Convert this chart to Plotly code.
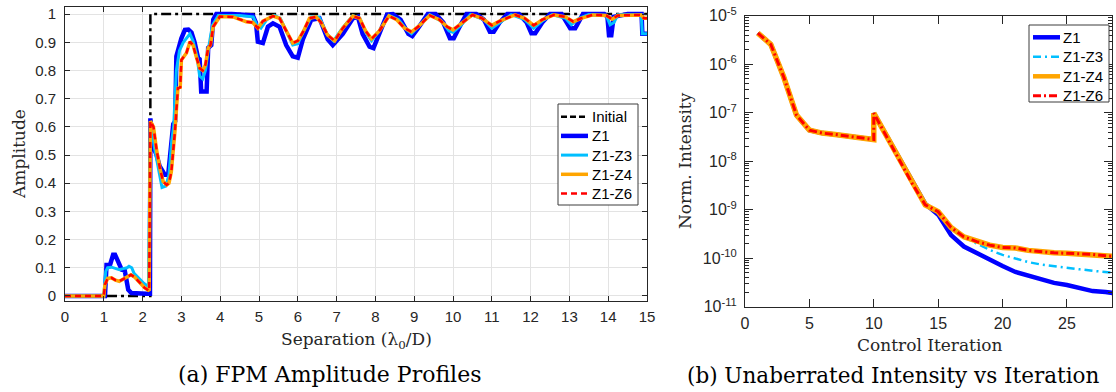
import plotly.graph_objects as go

# ---------------- (a) FPM amplitude profiles ----------------
sep_init = [0, 2.2, 2.2, 15]
amp_init = [0, 0, 1, 1]

sep_z1 = [0, 1.03, 1.07, 1.16, 1.24, 1.29, 1.37, 1.46, 1.54, 1.63, 1.71, 1.84, 1.97, 2.1, 2.19,
          2.2, 2.27, 2.36, 2.44, 2.57, 2.66, 2.70, 2.79, 2.84, 2.87, 3.0, 3.09, 3.18, 3.26, 3.34,
          3.43, 3.47, 3.51, 3.65, 3.69, 3.77, 3.82, 3.9, 4.3, 4.84, 4.92, 4.97, 5.10, 5.23, 5.36,
          5.53, 5.70, 5.87, 6.0, 6.13, 6.35, 6.56, 6.77, 6.9, 7.16, 7.42, 7.55, 7.67, 7.85, 7.95,
          8.1, 8.3, 8.45, 8.65, 8.85, 8.95, 9.1, 9.35, 9.55, 9.75, 9.92, 10.02, 10.15, 10.35, 10.6,
          10.8, 10.95, 11.05, 11.2, 11.4, 11.7, 11.9, 12.02, 12.12, 12.3, 12.5, 12.8, 12.93, 13.02,
          13.15, 13.35, 13.9, 13.98, 14.02, 14.08, 14.14, 14.5, 14.86, 14.88, 15]
amp_z1 = [0, 0, 0.11, 0.11, 0.146, 0.146, 0.122, 0.093, 0.09, 0.022, 0.01, 0.008, 0.01, 0.008, 0.008,
          0.63, 0.53, 0.50, 0.46, 0.43, 0.43, 0.49, 0.61, 0.62, 0.85, 0.914, 0.944, 0.945, 0.935, 0.90,
          0.844, 0.84, 0.725, 0.725, 0.88, 0.89, 0.98, 1.0, 1.0, 0.995, 0.97, 0.902, 0.897, 0.955, 0.967,
          0.955, 0.89, 0.85, 0.845, 0.91, 0.98, 0.985, 0.91, 0.89, 0.93, 0.985, 0.99, 0.93, 0.884, 0.879,
          0.93, 0.998, 1.0, 0.98, 0.93, 0.922, 0.95, 1.0, 1.0, 0.97, 0.914, 0.914, 0.95, 1.0, 1.0,
          0.98, 0.937, 0.937, 0.97, 1.0, 1.0, 0.97, 0.932, 0.932, 0.97, 1.0, 1.0, 0.97, 0.95,
          0.95, 1.0, 1.0, 0.99, 0.925, 0.925, 0.99, 1.0, 1.0, 0.93, 0.93]

sep_z13 = [0, 1.0, 1.05, 1.1, 1.2, 1.3, 1.4, 1.5, 1.6, 1.65, 1.72, 1.78, 1.9, 2.03, 2.15,
           2.2, 2.3, 2.4, 2.5, 2.6, 2.68, 2.75, 2.8, 2.87, 2.95, 3.05, 3.15, 3.22, 3.3, 3.4,
           3.47, 3.55, 3.62, 3.7, 3.8, 3.95, 4.5, 4.85, 4.95, 5.05, 5.2, 5.4, 5.55, 5.7, 5.87,
           6.0, 6.15, 6.35, 6.55, 6.75, 6.92, 7.15, 7.42, 7.6, 7.75, 7.9, 8.1, 8.35, 8.6, 8.8,
           8.93, 9.1, 9.4, 9.7, 9.9, 10.0, 10.2, 10.45, 10.8, 11.0, 11.2, 11.5, 11.85, 12.08, 12.3,
           12.55, 12.9, 13.05, 13.25, 13.5, 13.95, 14.05, 14.15, 14.25, 14.85, 14.88, 15]
amp_z13 = [0, 0, 0.087, 0.1, 0.102, 0.097, 0.093, 0.097, 0.1, 0.105, 0.1, 0.08, 0.062, 0.045, 0.033,
           0.62, 0.53, 0.45, 0.385, 0.39, 0.43, 0.55, 0.6, 0.8, 0.87, 0.9, 0.92, 0.93, 0.905, 0.85,
           0.78, 0.77, 0.80, 0.88, 0.96, 0.995, 0.995, 0.99, 0.96, 0.95, 0.98, 0.995, 0.985, 0.94, 0.89,
           0.895, 0.94, 0.99, 0.99, 0.93, 0.905, 0.95, 0.995, 0.985, 0.935, 0.905, 0.94, 0.995, 0.98, 0.945,
           0.93, 0.955, 0.998, 0.975, 0.94, 0.935, 0.96, 0.998, 0.98, 0.95, 0.97, 0.998, 0.98, 0.95, 0.975,
           0.998, 0.985, 0.962, 0.985, 0.998, 0.995, 0.962, 0.97, 0.998, 0.998, 0.93, 0.93]

sep_z16 = [0, 1.0, 1.03, 1.1, 1.2, 1.3, 1.4, 1.5, 1.6, 1.7, 1.8, 1.95, 2.05, 2.17,
           2.2, 2.28, 2.36, 2.45, 2.53, 2.62, 2.68, 2.74, 2.83, 2.91, 2.97, 3.0, 3.13, 3.22, 3.3,
           3.38, 3.47, 3.55, 3.62, 3.69, 3.75, 3.82, 3.99, 4.33, 4.67, 4.84, 4.97, 5.1, 5.36, 5.53,
           5.70, 5.87, 6.0, 6.15, 6.3, 6.47, 6.6, 6.77, 6.95, 7.16, 7.42, 7.59, 7.75, 7.9, 8.1,
           8.35, 8.55, 8.75, 8.93, 9.1, 9.4, 9.65, 9.85, 10.0, 10.2, 10.5, 10.75, 11.0, 11.2, 11.6,
           11.85, 12.08, 12.3, 12.6, 12.9, 13.1, 13.3, 13.6, 13.95, 14.1, 14.25, 14.85, 14.92, 15]
amp_z16 = [0, 0, 0.04, 0.062, 0.064, 0.056, 0.052, 0.06, 0.067, 0.075, 0.066, 0.045, 0.029, 0.018,
           0.62, 0.6, 0.518, 0.45, 0.406, 0.394, 0.40, 0.44, 0.578, 0.737, 0.74, 0.837, 0.862, 0.902, 0.89,
           0.85, 0.808, 0.80, 0.82, 0.88, 0.89, 0.955, 0.991, 0.99, 0.973, 0.97, 0.95, 0.975, 0.993, 0.985,
           0.94, 0.897, 0.905, 0.94, 0.985, 0.99, 0.97, 0.925, 0.905, 0.95, 0.993, 0.985, 0.94, 0.912, 0.94,
           0.993, 0.98, 0.95, 0.937, 0.955, 0.995, 0.98, 0.955, 0.944, 0.965, 0.997, 0.985, 0.96, 0.975, 0.997,
           0.985, 0.96, 0.98, 0.997, 0.99, 0.973, 0.985, 0.997, 0.995, 0.982, 0.995, 0.997, 0.985, 0.985]

sep_z14 = list(sep_z16)
amp_z14 = [0, 0, 0.04, 0.062, 0.064, 0.056, 0.052, 0.06, 0.067, 0.075, 0.066, 0.045, 0.029, 0.018,
           0.62, 0.6, 0.518, 0.45, 0.406, 0.394, 0.40, 0.44, 0.578, 0.737, 0.74, 0.837, 0.862, 0.902, 0.89,
           0.85, 0.808, 0.80, 0.82, 0.88, 0.89, 0.955, 0.991, 0.99, 0.973, 0.97, 0.95, 0.975, 0.993, 0.985,
           0.94, 0.897, 0.905, 0.94, 0.985, 0.99, 0.97, 0.925, 0.905, 0.95, 0.993, 0.985, 0.94, 0.912, 0.94,
           0.993, 0.98, 0.95, 0.937, 0.955, 0.995, 0.98, 0.955, 0.944, 0.965, 0.997, 0.985, 0.96, 0.975, 0.997,
           0.985, 0.96, 0.98, 0.997, 0.99, 0.973, 0.985, 0.997, 0.995, 0.982, 0.995, 0.997, 0.985, 0.985]

# ---------------- (b) intensity vs iteration ----------------
iters = [1, 2, 3, 4, 5, 6, 7, 8, 9, 10, 10, 11, 12, 13, 14, 15, 16, 17, 18, 19, 20,
         21, 22, 23, 24, 25, 26, 27, 28, 29]
int_z1 = [4.37e-6, 2.57e-6, 5.5e-7, 8.9e-8, 4.37e-8, 3.8e-8, 3.55e-8, 3.3e-8, 3.0e-8, 2.8e-8, 9.8e-8,
          3.3e-8, 1.1e-8, 3.8e-9, 1.32e-9, 7.9e-10, 3.0e-10, 1.74e-10, 1.26e-10, 9.1e-11, 6.9e-11,
          5.2e-11, 4.4e-11, 3.6e-11, 3.1e-11, 2.8e-11, 2.4e-11, 2.1e-11, 2.0e-11, 1.86e-11]
int_z13 = [4.37e-6, 2.57e-6, 5.5e-7, 8.9e-8, 4.37e-8, 3.8e-8, 3.55e-8, 3.3e-8, 3.0e-8, 2.8e-8, 9.8e-8,
           3.2e-8, 1.05e-8, 3.4e-9, 1.26e-9, 9.1e-10, 4.3e-10, 2.75e-10, 2.0e-10, 1.48e-10, 1.17e-10,
           9.8e-11, 8.3e-11, 7.4e-11, 6.8e-11, 6.3e-11, 5.9e-11, 5.5e-11, 5.2e-11, 4.9e-11]
int_z14 = [4.37e-6, 2.57e-6, 5.5e-7, 8.9e-8, 4.37e-8, 3.8e-8, 3.55e-8, 3.3e-8, 3.0e-8, 2.8e-8, 9.8e-8,
           3.2e-8, 1.05e-8, 3.4e-9, 1.26e-9, 9.1e-10, 4.3e-10, 2.75e-10, 2.2e-10, 1.86e-10, 1.66e-10,
           1.62e-10, 1.45e-10, 1.35e-10, 1.29e-10, 1.26e-10, 1.23e-10, 1.2e-10, 1.12e-10, 1.07e-10]
int_z16 = list(int_z14)

log_tickvals = [1e-11, 1e-10, 1e-9, 1e-8, 1e-7, 1e-6, 1e-5]
log_ticktext = ["10<sup>-11</sup>", "10<sup>-10</sup>", "10<sup>-9</sup>", "10<sup>-8</sup>",
                "10<sup>-7</sup>", "10<sup>-6</sup>", "10<sup>-5</sup>"]
iter_ticks = [0, 5, 10, 15, 20, 25]

legend_a_names = ["Initial", "Z1", "Z1-Z3", "Z1-Z4", "Z1-Z6"]
legend_b_names = ["Z1", "Z1-Z3", "Z1-Z4", "Z1-Z6"]

BLUE = "#0000ff"
SKY = "#00bfff"
ORANGE = "#ffa500"
RED = "#ff0000"
AX = "#262626"
SANS = "Liberation Sans, Arial, sans-serif"
SERIF = "DejaVu Serif, serif"

style_a = {
    "Initial": dict(color="black", width=2.5, dash="10px,4px,3px,4px"),
    "Z1": dict(color=BLUE, width=4.5),
    "Z1-Z3": dict(color=SKY, width=3),
    "Z1-Z4": dict(color=ORANGE, width=3.5),
    "Z1-Z6": dict(color=RED, width=2.5, dash="6px,4px"),
}
style_b = {
    "Z1": dict(color=BLUE, width=4.5),
    "Z1-Z3": dict(color=SKY, width=2.5, dash="8px,4px,2px,4px"),
    "Z1-Z4": dict(color=ORANGE, width=5.5),
    "Z1-Z6": dict(color=RED, width=3, dash="8px,3px,2px,3px"),
}
legend_a_sample = dict(Initial=dict(color="black", width=2.5, dash="6px,3px"))

fig = go.Figure()

series_a = [("Initial", sep_init, amp_init), ("Z1", sep_z1, amp_z1), ("Z1-Z3", sep_z13, amp_z13),
            ("Z1-Z4", sep_z14, amp_z14), ("Z1-Z6", sep_z16, amp_z16)]
for name, xs, ys in series_a:
    fig.add_trace(go.Scatter(x=xs, y=ys, mode="lines", name=name, line=style_a[name],
                             xaxis="x", yaxis="y", showlegend=False))

series_b = [("Z1", int_z1), ("Z1-Z3", int_z13), ("Z1-Z4", int_z14), ("Z1-Z6", int_z16)]
for name, ys in series_b:
    fig.add_trace(go.Scatter(x=iters, y=ys, mode="lines", name=name, line=style_b[name],
                             xaxis="x2", yaxis="y2", showlegend=False))

W, H = 1116, 392


def px(xp):
    return xp / W


def py(yp):
    return 1 - yp / H


common = dict(showline=True, linecolor=AX, linewidth=1, mirror="ticks", ticks="inside",
              tickcolor=AX, zeroline=False, automargin=False)

shapes = []
annotations = []

# legend (a)
shapes.append(dict(type="rect", xref="paper", yref="paper", x0=px(558), x1=px(638), y0=py(205),
                   y1=py(104), line=dict(color="#3c3c3c", width=1), fillcolor="white", layer="above"))
for i, name in enumerate(legend_a_names):
    yc = 116.7 + i * 19.2
    st = legend_a_sample.get(name, style_a[name])
    shapes.append(dict(type="line", xref="paper", yref="paper", x0=px(561), x1=px(588), y0=py(yc),
                       y1=py(yc), line=st, layer="above"))
    annotations.append(dict(text=name, x=px(590), y=py(yc), xref="paper", yref="paper",
                            showarrow=False, xanchor="left", yanchor="middle",
                            font=dict(family=SANS, size=15, color="black")))

# legend (b)
shapes.append(dict(type="rect", xref="paper", yref="paper", x0=px(1029), x1=px(1109), y0=py(102),
                   y1=py(25), line=dict(color="#3c3c3c", width=1), fillcolor="white", layer="above"))
for i, name in enumerate(legend_b_names):
    yc = 37.3 + i * 19.5
    st = dict(style_b[name])
    st["width"] = min(st["width"], 4.5)
    shapes.append(dict(type="line", xref="paper", yref="paper", x0=px(1033), x1=px(1060), y0=py(yc),
                       y1=py(yc), line=st, layer="above"))
    annotations.append(dict(text=name, x=px(1061), y=py(yc), xref="paper", yref="paper",
                            showarrow=False, xanchor="left", yanchor="middle",
                            font=dict(family=SANS, size=15, color="black")))

annotations += [
    dict(text="Separation (λ<sub>0</sub>/D)", x=px(356), y=py(340), xref="paper", yref="paper",
         showarrow=False, xanchor="center", yanchor="middle",
         font=dict(family=SERIF, size=17, color=AX)),
    dict(text="Amplitude", x=px(19), y=py(154), xref="paper", yref="paper", textangle=-90,
         showarrow=False, xanchor="center", yanchor="middle",
         font=dict(family=SERIF, size=17, color=AX)),
    dict(text="Norm. Intensity", x=px(685), y=py(161), xref="paper", yref="paper", textangle=-90,
         showarrow=False, xanchor="center", yanchor="middle",
         font=dict(family=SERIF, size=17, color=AX)),
    dict(text="Control Iteration", x=px(930), y=py(345), xref="paper", yref="paper",
         showarrow=False, xanchor="center", yanchor="middle",
         font=dict(family=SERIF, size=17, color=AX)),
    dict(text="(a) FPM Amplitude Profiles", x=px(329), y=py(374), xref="paper", yref="paper",
         showarrow=False, xanchor="center", yanchor="middle",
         font=dict(family=SERIF, size=22, color="black")),
    dict(text="(b) Unaberrated Intensity vs Iteration", x=px(893), y=py(375), xref="paper",
         yref="paper", showarrow=False, xanchor="center", yanchor="middle",
         font=dict(family=SERIF, size=21.5, color="black")),
]

fig.update_layout(
    width=W, height=H, margin=dict(l=0, r=0, t=0, b=0, pad=0, autoexpand=False),
    paper_bgcolor="white", plot_bgcolor="white",
    xaxis=dict(domain=[px(65), px(647)], range=[0, 15], dtick=1, tick0=0, ticklen=5,
               showgrid=True, gridcolor="#e3e3e3", gridwidth=1, anchor="y",
               ticklabelstandoff=2, tickfont=dict(family=SANS, size=15, color=AX), **common),
    yaxis=dict(domain=[py(301), py(7.3)], range=[-0.018, 1.024], dtick=0.1, tick0=0, ticklen=5,
               showgrid=True, gridcolor="#e3e3e3", gridwidth=1, anchor="x",
               ticklabelstandoff=5, tickfont=dict(family=SANS, size=15, color=AX), **common),
    xaxis2=dict(domain=[px(745), px(1112)], range=[0, 28.5], tickmode="array", tickvals=iter_ticks,
                ticklen=8, showgrid=False, anchor="y2", ticklabelstandoff=2,
                tickfont=dict(family=SANS, size=16, color=AX), **common),
    yaxis2=dict(domain=[py(306.7), py(15.7)], type="log", range=[-11, -5], tickmode="array",
                tickvals=log_tickvals, ticktext=log_ticktext, ticklen=8, showgrid=False,
                anchor="x2", ticklabelstandoff=4,
                minor=dict(ticks="inside", ticklen=4, tickcolor=AX, showgrid=False,
                           tickmode="array",
                           tickvals=[m * 10.0 ** e for e in range(-11, -5) for m in range(2, 10)]),
                tickfont=dict(family=SANS, size=16, color=AX), **common),
    shapes=shapes,
    annotations=annotations,
)

fig.write_html("out.html", config={"displayModeBar": False},
               post_script="document.body.style.margin='0';document.body.style.overflow='hidden';")
